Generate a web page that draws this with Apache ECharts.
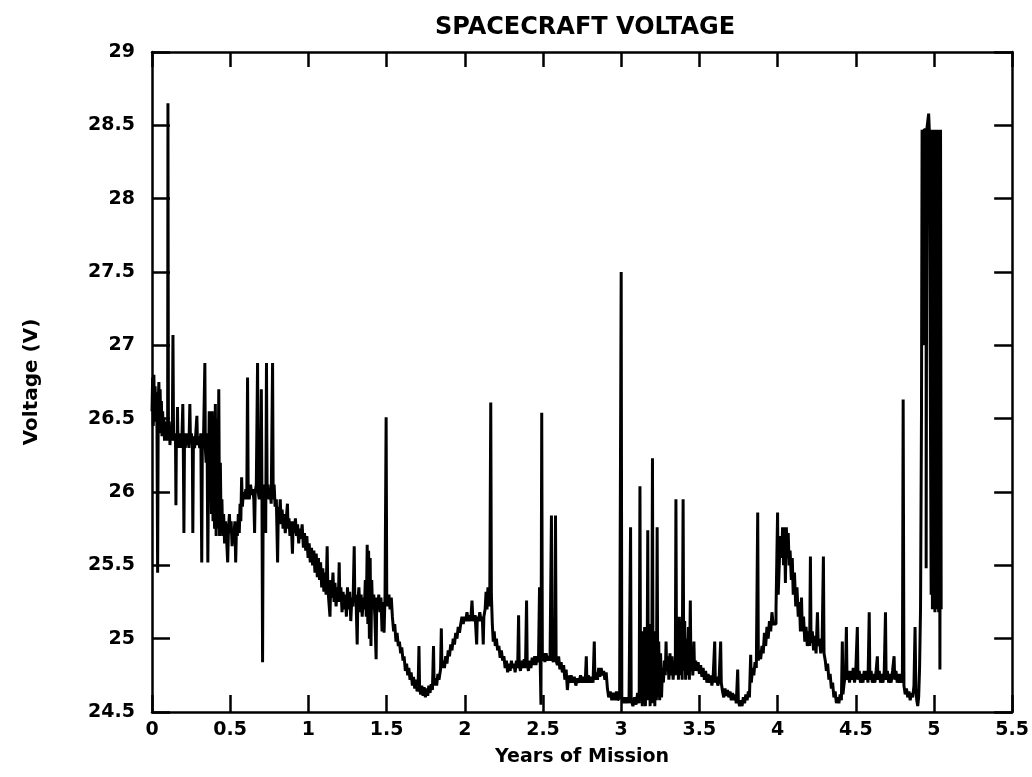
<!DOCTYPE html>
<html>
<head>
<meta charset="utf-8">
<script src="https://cdn.jsdelivr.net/npm/echarts@6/dist/echarts.min.js"></script>
<style>
html,body{margin:0;padding:0;background:#fff;}
#chart{width:1032px;height:777px;}
</style>
</head>
<body>
<div id="chart"></div>
<script>
// Chart text
const chartTitle = 'SPACECRAFT VOLTAGE';
const xName = 'Years of Mission';
const yName = 'Voltage (V)';
const xTicks = [0, 0.5, 1, 1.5, 2, 2.5, 3, 3.5, 4, 4.5, 5, 5.5];
const yTicks = [24.5, 25, 25.5, 26, 26.5, 27, 27.5, 28, 28.5, 29];

// Voltage readings: [years, volts], in segments
const early = [
[0.000,26.55],[0.004,26.78],[0.008,26.45],[0.012,26.80],[0.016,26.50],[0.020,26.72],[0.024,26.48],[0.028,26.68],[0.032,26.42],[0.036,25.45],[0.040,26.62],[0.044,26.75],[0.048,26.45],[0.052,26.70],[0.056,26.40],[0.060,26.62],[0.064,26.38],[0.068,26.55],[0.072,26.40],[0.076,26.50],[0.080,26.35],[0.084,26.48],[0.088,26.35],[0.093,26.45],[0.100,26.40],[0.102,28.65],[0.105,26.35],[0.110,26.48],[0.115,26.32],[0.120,26.45],[0.125,26.35],
[0.130,26.40],[0.134,27.07],[0.138,26.35],[0.150,26.40],[0.153,25.91],[0.156,26.40],[0.160,26.30],[0.163,26.58],[0.166,26.33],[0.170,26.40],[0.174,26.30],
[0.180,26.40],[0.186,26.30],[0.192,26.40],[0.197,26.60],[0.200,26.33],[0.204,25.72],[0.208,26.38],[0.213,26.30],[0.218,26.40],
[0.224,26.32],[0.230,26.40],[0.236,26.30],[0.242,26.60],[0.246,26.35],[0.252,26.40],[0.258,26.30],[0.261,25.72],[0.265,26.38],
[0.272,26.30],[0.280,26.40],[0.287,26.52],[0.291,26.32],[0.296,26.38],[0.305,26.30],[0.312,26.40],[0.318,25.52],[0.322,26.35],
[0.330,26.40],[0.338,26.88],[0.341,26.30],[0.346,26.20],[0.352,26.40],[0.357,25.52],[0.361,26.10],
[0.366,26.55],[0.370,25.95],[0.375,26.45],[0.380,25.85],[0.385,26.55],[0.390,25.80],[0.395,26.40],[0.400,25.75],[0.405,26.60],[0.410,25.70],[0.415,26.50],[0.420,25.75],[0.427,26.70],[0.432,25.70],[0.437,26.20],[0.442,25.75],[0.447,25.95],
[0.452,25.70],[0.458,25.85],[0.464,25.65],[0.470,25.80],[0.476,25.70],[0.484,25.52],[0.489,25.75],[0.495,25.85],[0.500,25.72],[0.506,25.80],[0.512,25.63],[0.518,25.75],[0.524,25.70],[0.530,25.80],[0.535,25.52],[0.540,25.75],[0.546,25.70],
[0.552,25.85],[0.558,25.72],[0.563,25.92],[0.568,25.80],[0.573,26.10],[0.578,25.90],[0.584,26.00],
[0.592,25.95],[0.600,26.02],[0.606,25.95],[0.611,26.78],[0.615,26.00],[0.622,25.95],[0.630,26.05],[0.638,25.98],[0.645,26.02],[0.651,25.95],[0.656,25.72],[0.660,26.00],[0.667,26.05],[0.675,26.88],[0.679,26.00],[0.686,25.95],[0.693,26.05],[0.699,26.70],[0.703,26.00],[0.707,24.84],[0.711,26.00],[0.717,26.05],[0.722,25.95],[0.727,25.72],[0.732,26.88],[0.736,26.00],[0.742,26.05],[0.748,25.95],[0.755,26.02],[0.762,25.92],[0.771,26.88],[0.775,25.95],[0.781,26.05],[0.787,25.90],
[0.795,25.95],[0.803,25.52],[0.808,25.90],[0.814,25.80],[0.820,25.95],[0.826,25.78],[0.832,25.88],[0.838,25.75],[0.845,25.85],[0.852,25.72],[0.859,25.82],[0.866,25.92],[0.870,25.75],
[0.876,25.82],[0.882,25.70],[0.888,25.80],[0.893,25.72],[0.898,25.58],[0.903,25.80],[0.910,25.72],[0.917,25.82],[0.924,25.70],[0.931,25.78],[0.938,25.65],[0.945,25.75],[0.952,25.68],[0.960,25.78],[0.968,25.62],[0.975,25.72]
];
const decline = [
[0.983,25.60],[0.990,25.70],[0.998,25.55],[1.005,25.65],[1.012,25.52],[1.020,25.62],[1.027,25.50],[1.035,25.60],[1.042,25.45],[1.050,25.58],[1.057,25.42],[1.064,25.55],
[1.071,25.40],[1.078,25.52],[1.085,25.35],[1.092,25.48],[1.099,25.32],[1.106,25.45],[1.113,25.30],[1.120,25.63],[1.124,25.35],[1.131,25.25],[1.138,25.15],[1.143,25.40],[1.150,25.28],[1.157,25.45],[1.164,25.25],[1.170,25.38],[1.177,25.22],
[1.185,25.35],[1.191,25.25],[1.197,25.52],[1.201,25.25],[1.208,25.35],[1.215,25.18],[1.222,25.32],[1.229,25.20],
[1.236,25.30],[1.243,25.15],[1.250,25.35],[1.257,25.20],[1.264,25.32],[1.271,25.12],[1.278,25.28],[1.285,25.22],[1.293,25.63],[1.297,25.25],[1.304,25.30],[1.312,24.96],[1.316,25.25],[1.323,25.35],[1.330,25.18],[1.337,25.30],[1.344,25.15],[1.351,25.28],[1.358,25.20],[1.364,25.40],[1.370,25.15],[1.376,25.64],[1.380,25.10],[1.385,25.60],[1.390,25.00],[1.395,25.55],[1.400,24.95],[1.405,25.40],[1.410,25.20],[1.418,25.30],[1.425,25.15],[1.433,24.86],[1.437,25.28],[1.443,25.20],[1.450,25.30],[1.457,25.18],[1.464,25.28],[1.471,25.05],[1.477,25.25],[1.484,25.04],
[1.490,25.30],[1.497,26.51],[1.501,25.30],[1.508,25.22],[1.515,25.30],[1.522,25.20],[1.530,25.28],
[1.537,25.15],[1.545,25.05],[1.552,25.10],[1.560,24.98],[1.567,25.04],[1.575,24.95],[1.582,24.98],[1.590,24.90],[1.597,24.94],[1.605,24.85],[1.612,24.88],
[1.620,24.78],[1.628,24.83],[1.635,24.75],[1.642,24.80],[1.650,24.72],[1.657,24.77],[1.665,24.68],[1.672,24.74],[1.680,24.66],[1.688,24.72],[1.695,24.64],[1.702,24.70],[1.707,24.95],[1.711,24.66],[1.718,24.62],[1.725,24.68],[1.733,24.61],[1.740,24.67],[1.748,24.60],[1.755,24.66],[1.763,24.61],[1.770,24.68],[1.778,24.63],[1.785,24.69],[1.793,24.65],[1.800,24.95],[1.804,24.68],[1.812,24.73],[1.820,24.68],[1.828,24.76],[1.835,24.72],[1.845,24.79],[1.850,25.07],[1.854,24.80]
];
const middle = [
[1.862,24.85],[1.870,24.80],[1.878,24.88],[1.886,24.83],[1.894,24.92],[1.902,24.88],[1.910,24.96],[1.918,24.92],[1.926,25.00],[1.934,24.96],[1.942,25.04],[1.950,25.00],[1.958,25.08],[1.966,25.04],
[1.974,25.10],[1.982,25.15],[1.990,25.10],[1.998,25.15],[2.006,25.12],[2.014,25.18],[2.022,25.12],[2.030,25.16],[2.038,25.12],[2.046,25.26],[2.051,25.15],[2.058,25.12],[2.066,25.16],[2.076,24.96],[2.080,25.15],[2.088,25.12],[2.096,25.18],[2.104,25.12],[2.112,25.15],[2.118,24.96],[2.122,25.15],[2.130,25.20],
[2.136,25.32],[2.142,25.20],[2.148,25.35],[2.154,25.22],[2.160,25.35],[2.166,26.61],[2.170,25.30],
[2.176,25.10],[2.182,24.98],[2.188,25.05],[2.195,24.95],[2.202,25.00],[2.210,24.92],[2.218,24.95],[2.226,24.87],[2.234,24.92],[2.242,24.85],
[2.250,24.88],[2.258,24.80],[2.266,24.85],[2.274,24.77],[2.282,24.83],[2.290,24.78],[2.298,24.85],[2.306,24.80],[2.314,24.83],[2.322,24.77],[2.330,24.85],[2.338,24.80],[2.344,25.16],[2.348,24.82],[2.356,24.78],[2.364,24.85],[2.372,24.80],[2.380,24.86],[2.388,24.80],[2.395,25.26],[2.399,24.83],[2.407,24.78],[2.415,24.85],[2.423,24.80],[2.431,24.87],[2.439,24.82],[2.447,24.88],[2.455,24.82],[2.463,24.88],[2.471,24.84],[2.478,25.35],[2.482,24.85],
[2.487,24.55],[2.492,26.54],[2.496,24.85],[2.504,24.90],[2.512,24.84],[2.520,24.90],[2.528,24.85],
[2.536,24.88],[2.545,24.85],[2.554,25.84],[2.558,24.88],[2.566,24.84],[2.575,24.90],[2.580,25.84],[2.584,24.85],
[2.592,24.82],[2.600,24.88],[2.608,24.79],[2.616,24.84],[2.624,24.77],[2.632,24.82],[2.640,24.72],[2.648,24.79],[2.656,24.65],[2.664,24.75],[2.672,24.70],
[2.680,24.75],[2.690,24.70],[2.700,24.74],[2.710,24.68],[2.720,24.73],[2.730,24.70],[2.740,24.75],[2.750,24.70],[2.760,24.74],[2.770,24.70],[2.777,24.88],[2.781,24.70],[2.790,24.75],[2.800,24.70],[2.810,24.74],[2.820,24.70],[2.828,24.98],[2.832,24.72],
[2.840,24.77],[2.848,24.72],[2.856,24.80],[2.864,24.74],[2.872,24.80],[2.880,24.75],[2.888,24.78],[2.896,24.72],[2.904,24.77],
[2.912,24.66],[2.920,24.60],[2.930,24.64],[2.940,24.58],[2.950,24.63],[2.960,24.58],[2.970,24.64],[2.978,24.58]
];
const late = [
[2.990,24.60],[3.000,27.50],[3.004,24.60],[3.012,24.56],[3.020,24.60],
[3.030,24.56],[3.040,24.60],[3.050,24.56],[3.060,25.76],[3.064,24.58],[3.075,24.54],[3.085,24.60],[3.095,24.55],[3.105,24.63],[3.115,24.56],[3.120,26.04],[3.124,24.58],[3.130,25.00],[3.135,24.54],[3.140,25.05],[3.145,24.56],[3.150,25.08],[3.155,24.54],[3.160,25.05],[3.165,24.58],[3.170,25.74],[3.174,24.58],[3.180,25.08],[3.185,24.54],[3.190,25.10],[3.195,24.56],[3.200,26.23],[3.204,24.56],[3.210,25.05],[3.215,24.54],[3.220,25.00],[3.225,24.58],[3.230,25.76],[3.234,24.60],[3.240,24.98],[3.246,24.58],[3.252,24.90],[3.258,24.60],
[3.264,24.80],[3.270,24.70],[3.276,24.85],[3.282,24.75],[3.287,24.98],[3.291,24.78],[3.298,24.88],[3.305,24.72],[3.312,24.90],[3.318,24.75],[3.325,24.88],[3.332,24.72],[3.340,24.85],[3.346,24.75],
[3.350,25.95],[3.354,24.78],[3.360,25.10],[3.366,24.72],[3.372,25.15],[3.378,24.75],[3.384,25.05],[3.390,24.72],[3.396,25.95],[3.400,24.78],[3.406,25.12],[3.412,24.72],[3.418,25.00],[3.424,24.75],[3.430,25.08],[3.436,24.72],[3.442,25.26],[3.446,24.78],[3.452,24.90],[3.458,24.75],[3.465,24.98],[3.469,24.78],
[3.476,24.85],[3.484,24.78],[3.492,24.84],[3.500,24.76],[3.508,24.82],[3.516,24.74],[3.524,24.80],[3.532,24.72],[3.540,24.78],[3.548,24.70],[3.556,24.76],[3.564,24.70],[3.572,24.75],[3.580,24.68],[3.588,24.74],[3.598,24.98],[3.602,24.70],[3.610,24.74],[3.618,24.68],[3.626,24.72],[3.636,24.98],[3.640,24.70],
[3.648,24.64],[3.656,24.60],[3.664,24.66],[3.672,24.61],[3.680,24.65],[3.688,24.60],[3.696,24.64],[3.704,24.58],[3.712,24.63],[3.720,24.58],[3.728,24.62],[3.736,24.56],[3.745,24.79],[3.749,24.58],[3.757,24.54],[3.765,24.58],[3.773,24.54],
[3.781,24.60],[3.789,24.56],[3.797,24.62],[3.805,24.58],[3.813,24.64],[3.820,24.60],[3.828,24.89],[3.832,24.70],[3.840,24.80],[3.848,24.75],[3.856,24.84],
[3.864,24.80],[3.873,25.86],[3.877,24.85],[3.884,24.92],[3.892,24.86],[3.900,24.95],[3.908,24.90],[3.916,25.04],[3.924,24.95],[3.932,25.08],[3.940,25.00],[3.948,25.12],[3.956,25.05],[3.964,25.18],[3.972,25.10],
[3.990,25.20],[4.000,25.86],[4.004,25.30],[4.012,25.54],[4.020,25.70],[4.026,25.55],[4.032,25.76],[4.038,25.50],[4.044,25.76],[4.050,25.38],[4.056,25.76],[4.062,25.55],[4.068,25.72],[4.074,25.50],[4.080,25.60],
[4.088,25.40],[4.094,25.55],[4.100,25.30],[4.108,25.45],[4.116,25.22],[4.124,25.35],[4.132,25.15],[4.140,25.25],[4.146,25.05],[4.153,25.28],[4.158,25.05],[4.166,25.15],[4.174,24.98],[4.182,25.08],
[4.190,24.95],[4.198,25.05],[4.205,24.95],[4.210,25.56],[4.214,24.97],[4.222,25.05],[4.230,24.92],[4.238,25.02],[4.246,24.90],[4.255,25.18],[4.260,24.95],[4.268,25.00],[4.276,24.90],[4.285,24.98],[4.293,25.56],[4.297,24.90],
[4.305,24.85],[4.312,24.78],[4.320,24.83],[4.328,24.72],[4.336,24.76],[4.344,24.66],[4.352,24.70],[4.360,24.60],[4.368,24.64],[4.376,24.56],[4.384,24.60],
[4.392,24.56],[4.400,24.62],[4.408,24.58],[4.414,24.98],[4.418,24.62],[4.426,24.70],[4.434,24.75],[4.440,25.08],[4.444,24.72],
[4.452,24.78],[4.460,24.70],[4.468,24.78],[4.476,24.72],[4.484,24.80],[4.492,24.70],[4.500,24.78],[4.510,25.08],[4.514,24.72],[4.522,24.78],[4.530,24.70],[4.538,24.76],[4.546,24.70],[4.554,24.78],[4.562,24.72],[4.570,24.78],[4.578,24.70],[4.586,25.18],[4.590,24.72],[4.598,24.78],[4.606,24.70],[4.614,24.76],[4.622,24.70],[4.630,24.78],[4.638,24.88],[4.642,24.72],[4.650,24.78],[4.658,24.70],[4.666,24.76],[4.674,24.70],[4.682,24.78],[4.690,25.18],[4.694,24.72],[4.702,24.78],[4.710,24.70],[4.718,24.76],[4.726,24.70],[4.735,24.78],[4.745,24.88],[4.749,24.72],[4.757,24.78],[4.765,24.70],[4.773,24.76],[4.781,24.70],[4.790,24.76],[4.798,24.70],
[4.803,26.63],[4.808,24.68],[4.816,24.62],[4.824,24.66],[4.832,24.60],[4.840,24.64],[4.848,24.58],[4.856,24.63],
[4.864,24.60],[4.872,24.68],[4.879,25.08],[4.884,24.66],[4.890,24.58],[4.896,24.54],[4.902,24.60]
];
const finale = [
[4.908,24.80],[4.914,25.20],[4.920,26.50],[4.924,28.47],[4.928,28.40],[4.932,27.00],[4.936,28.47],[4.944,28.47],[4.950,25.48],[4.954,28.47],[4.962,28.47],[4.966,28.58],[4.970,28.47],
[4.976,28.47],[4.982,25.30],[4.986,28.47],[4.990,25.20],[4.994,28.47],[4.998,25.25],[5.002,28.47],[5.006,25.18],[5.010,28.47],[5.014,25.20],[5.018,28.47],[5.022,25.22],[5.026,28.47],[5.030,25.18],[5.034,28.47],[5.038,24.79],[5.042,28.47],[5.046,25.20]
];

const readings = [].concat(early, decline, middle, late, finale);

const chart = echarts.init(document.getElementById('chart'), null, {renderer: 'canvas'});
const font = 'DejaVu Sans';
const axisLineStyle = {color: '#000', width: 2.5};
const fmt = v => String(v);

chart.setOption({
  animation: false,
  backgroundColor: '#fff',
  title: {
    text: chartTitle,
    left: 580, top: 11, textAlign: 'center',
    textStyle: {fontFamily: font, fontSize: 24, fontWeight: 'bold', color: '#000'}
  },
  grid: {left: 152, right: 17, top: 52, bottom: 65, containLabel: false},
  xAxis: [{
    type: 'value', min: xTicks[0], max: xTicks[xTicks.length - 1], interval: 0.5,
    position: 'bottom',
    name: xName, nameLocation: 'middle', nameGap: 36,
    nameTextStyle: {fontFamily: font, fontSize: 19, fontWeight: 'bold', color: '#000'},
    axisLine: {show: true, onZero: false, lineStyle: axisLineStyle},
    axisTick: {show: true, inside: true, length: 17, lineStyle: axisLineStyle},
    axisLabel: {fontFamily: font, fontSize: 19, fontWeight: 'bold', color: '#000', margin: 9, formatter: fmt},
    splitLine: {show: false}
  }, {
    type: 'value', min: xTicks[0], max: xTicks[xTicks.length - 1], interval: 0.5,
    position: 'top',
    axisLine: {show: true, onZero: false, lineStyle: axisLineStyle},
    axisTick: {show: true, inside: true, length: 15, lineStyle: axisLineStyle},
    axisLabel: {show: false},
    splitLine: {show: false}
  }],
  yAxis: [{
    type: 'value', min: yTicks[0], max: yTicks[yTicks.length - 1], interval: 0.5,
    position: 'left',
    name: yName, nameLocation: 'middle', nameGap: 110, nameRotate: 90,
    nameTextStyle: {fontFamily: font, fontSize: 20, fontWeight: 'bold', color: '#000'},
    axisLine: {show: true, onZero: false, lineStyle: axisLineStyle},
    axisTick: {show: true, inside: true, length: 18, lineStyle: axisLineStyle},
    axisLabel: {fontFamily: font, fontSize: 19, fontWeight: 'bold', color: '#000', margin: 17, formatter: fmt},
    splitLine: {show: false}
  }, {
    type: 'value', min: yTicks[0], max: yTicks[yTicks.length - 1], interval: 0.5,
    position: 'right',
    axisLine: {show: true, onZero: false, lineStyle: axisLineStyle},
    axisTick: {show: true, inside: true, length: 18, lineStyle: axisLineStyle},
    axisLabel: {show: false},
    splitLine: {show: false}
  }],
  series: [{
    type: 'line',
    data: readings,
    step: 'end',
    showSymbol: false,
    symbol: 'none',
    clip: true,
    lineStyle: {color: '#000', width: 3},
    emphasis: {disabled: true}
  }]
});
</script>
</body>
</html>
